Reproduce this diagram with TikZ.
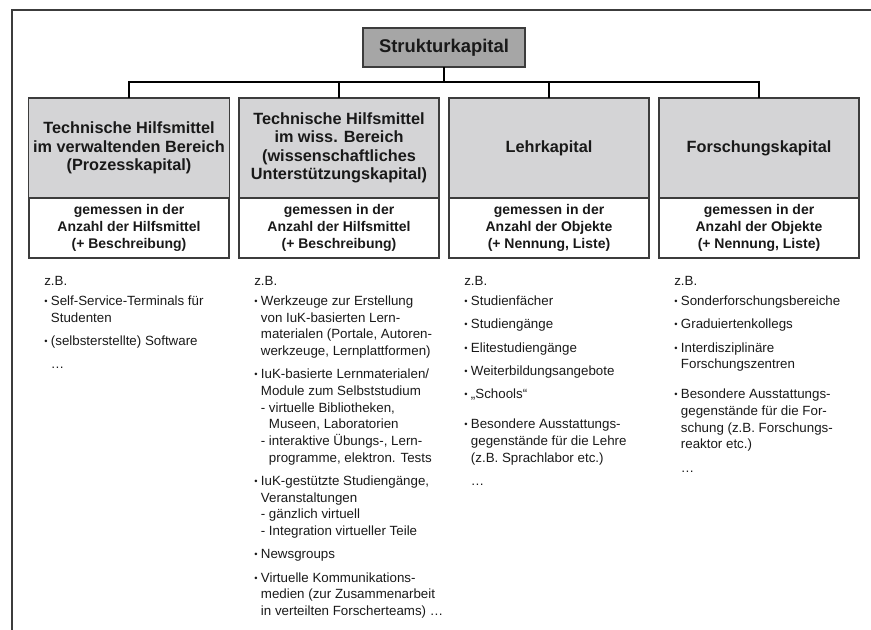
\documentclass[tikz,border=0pt]{standalone}
\usepackage{fontspec}
\setmainfont{Liberation Sans}
\usepackage{tikz}
\usetikzlibrary{positioning}
\definecolor{headgray}{RGB}{212,212,214}
\definecolor{topgray}{RGB}{166,166,166}
\definecolor{linegray}{RGB}{60,60,60}
\definecolor{textgray}{RGB}{25,25,25}
% bullet, indent and dash for the example lists
\newcommand{\itm}{\makebox[5pt][l]{\raisebox{0.7pt}{\fontsize{7pt}{7pt}\selectfont •}}}
\newcommand{\ind}{\hspace*{5pt}}
\newcommand{\dsh}{\ind\makebox[6pt][l]{-}}
\newcommand{\dind}{\hspace*{11pt}}

\begin{document}
\begin{tikzpicture}[x=0.75pt,y=-0.75pt,
  head/.style={draw=linegray, line width=0.9pt, fill=headgray, outer sep=0pt,
    minimum width=150pt, minimum height=75pt, align=center, text=textgray,
    font=\fontsize{12.2pt}{13.9pt}\selectfont\bfseries},
  sub/.style={draw=linegray, line width=0.9pt, fill=white, outer sep=0pt,
    minimum width=150pt, minimum height=45pt, align=center, text=textgray,
    font=\fontsize{10.5pt}{13pt}\selectfont\bfseries},
  list/.style={anchor=north west, inner sep=0pt, align=left, text=textgray,
    font=\fontsize{10pt}{12.5pt}\selectfont},
  link/.style={draw=black, line width=0.9pt}]
\useasboundingbox (0,0) rectangle (871,630);
\draw[linegray, line width=1.1pt] (12,630) -- (12,10) -- (871,10);

\node[draw=linegray, line width=0.9pt, fill=topgray, outer sep=0pt, minimum width=121.5pt,
  minimum height=29.25pt, text=textgray, font=\fontsize{13.8pt}{16pt}\selectfont\bfseries]
  (struk) at (444,47.5) {Strukturkapital};

\node[head] (h1) at (129,148) {Technische Hilfsmittel\\im verwaltenden Bereich\\(Prozesskapital)};
\node[head] (h2) at (339,148) {Technische Hilfsmittel\\im wiss. Bereich\\(wissenschaftliches\\Unterstützungskapital)};
\node[head] (h3) at (549,148) {Lehrkapital};
\node[head] (h4) at (759,148) {Forschungskapital};

\node[sub, below=0pt of h1] (s1) {gemessen in der\\Anzahl der Hilfsmittel\\(+ Beschreibung)};
\node[sub, below=0pt of h2] (s2) {gemessen in der\\Anzahl der Hilfsmittel\\(+ Beschreibung)};
\node[sub, below=0pt of h3] (s3) {gemessen in der\\Anzahl der Objekte\\(+ Nennung, Liste)};
\node[sub, below=0pt of h4] (s4) {gemessen in der\\Anzahl der Objekte\\(+ Nennung, Liste)};

\coordinate (bus) at (444,82);
\draw[link] (struk) -- (bus);
\foreach \i in {1,...,4}
  \draw[link] (h\i.north) |- (bus);

\node[list] (l1) at (44,276) {z.B.\\[2.5pt]
  \itm Self-Service-Terminals für\\
  \ind Studenten\\[5pt]
  \itm (selbsterstellte) Software\\[5pt]
  \ind …};
\node[list] (l2) at (254,276) {z.B.\\[2.5pt]
  \itm Werkzeuge zur Erstellung\\
  \ind von IuK-basierten Lern-\\
  \ind materialen (Portale, Autoren-\\
  \ind werkzeuge, Lernplattformen)\\[5pt]
  \itm IuK-basierte Lernmaterialen/\\
  \ind Module zum Selbststudium\\
  \dsh virtuelle Bibliotheken,\\
  \dind Museen, Laboratorien\\
  \dsh interaktive Übungs-, Lern-\\
  \dind programme, elektron. Tests\\[5pt]
  \itm IuK-gestützte Studiengänge,\\
  \ind Veranstaltungen\\
  \dsh gänzlich virtuell\\
  \dsh Integration virtueller Teile\\[5pt]
  \itm Newsgroups\\[5pt]
  \itm Virtuelle Kommunikations-\\
  \ind medien (zur Zusammenarbeit\\
  \ind in verteilten Forscherteams) …};
\node[list] (l3) at (464,276) {z.B.\\[2.5pt]
  \itm Studienfächer\\[5pt]
  \itm Studiengänge\\[5pt]
  \itm Elitestudiengänge\\[5pt]
  \itm Weiterbildungsangebote\\[5pt]
  \itm „Schools“\\[10pt]
  \itm Besondere Ausstattungs-\\
  \ind gegenstände für die Lehre\\
  \ind (z.B. Sprachlabor etc.)\\[5pt]
  \ind …};
\node[list] (l4) at (674,276) {z.B.\\[2.5pt]
  \itm Sonderforschungsbereiche\\[5pt]
  \itm Graduiertenkollegs\\[5pt]
  \itm Interdisziplinäre\\
  \ind Forschungszentren\\[10pt]
  \itm Besondere Ausstattungs-\\
  \ind gegenstände für die For-\\
  \ind schung (z.B. Forschungs-\\
  \ind reaktor etc.)\\[5pt]
  \ind …};
\end{tikzpicture}
\end{document}
